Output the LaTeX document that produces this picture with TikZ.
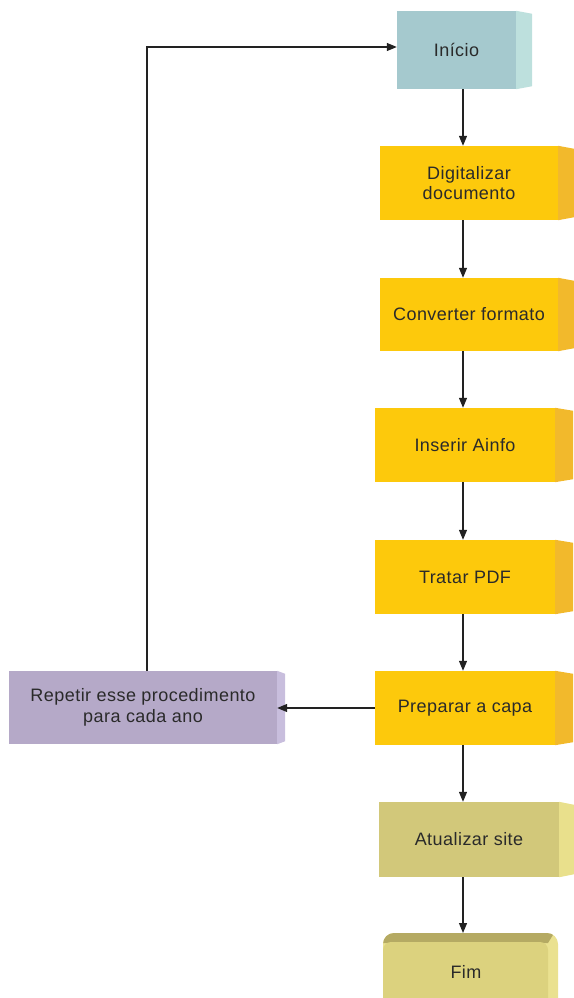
\documentclass[tikz,border=0pt]{standalone}
\usepackage{fontspec}
\setmainfont{Liberation Sans}[LetterSpace=2.5]
\usetikzlibrary{arrows.meta}
\definecolor{txt}{HTML}{2A2A2A}
\definecolor{tealF}{HTML}{A5C9CE}
\definecolor{tealS}{HTML}{BDE0DD}
\definecolor{yelF}{HTML}{FDC90C}
\definecolor{yelS}{HTML}{F2B92C}
\definecolor{purF}{HTML}{B5A9C8}
\definecolor{purS}{HTML}{C8BEDD}
\definecolor{oliF}{HTML}{D2C87A}
\definecolor{oliS}{HTML}{E9E08C}
\definecolor{fimF}{HTML}{DCD27E}
\definecolor{fimT}{HTML}{B5AA63}
\definecolor{fimS}{HTML}{EAE190}
\definecolor{lin}{HTML}{222222}
\tikzset{
  box/.style={rectangle, inner sep=0pt, text=txt, align=center,
    font=\fontsize{18}{20.5}\selectfont},
  arr/.style={draw=lin, line width=1.2pt, -{Triangle[length=10pt,width=8pt]}},
}
\newcommand{\sideface}[3]{%
  \fill[#3] (#1.north east) -- ++(#2,3) -- ([shift={(#2,-3)}]#1.south east) -- (#1.south east) -- cycle;}
\begin{document}
\begin{tikzpicture}[x=1pt,y=-1pt]
\useasboundingbox (0,0) rectangle (573,998);
% boxes
\node[box, fill=tealF, minimum width=119pt, minimum height=78pt] (inicio) at (456.5,50) {Início};
\sideface{inicio}{16}{tealS}
\node[box, fill=yelF, minimum width=178pt, minimum height=74pt] (dig) at (469,183) {Digitalizar\\documento};
\sideface{dig}{16}{yelS}
\node[box, fill=yelF, minimum width=178pt, minimum height=73pt] (conv) at (469,314.5) {Converter formato};
\sideface{conv}{16}{yelS}
\node[box, fill=yelF, minimum width=180pt, minimum height=74pt] (ins) at (465,445) {Inserir Ainfo};
\sideface{ins}{18}{yelS}
\node[box, fill=yelF, minimum width=180pt, minimum height=74pt] (trat) at (465,577) {Tratar PDF};
\sideface{trat}{18}{yelS}
\node[box, fill=yelF, minimum width=180pt, minimum height=74pt] (prep) at (465,708) {Preparar a capa};
\sideface{prep}{18}{yelS}
\node[box, fill=purF, minimum width=268pt, minimum height=73pt] (rep) at (143,707.5) {Repetir esse procedimento\\para cada ano};
\sideface{rep}{8}{purS}
\node[box, fill=oliF, minimum width=180pt, minimum height=75pt] (atu) at (469,839.5) {Atualizar site};
\sideface{atu}{15}{oliS}
% Fim
\begin{scope}
  \clip[rounded corners=11pt] (383,933) rectangle (558,1012);
  \fill[fimS] (380,930) rectangle (560,1012);
  \fill[fimT] (380,930) -- (556,930) -- (548,943) -- (380,943) -- cycle;
  \fill[fimF, rounded corners=8pt] (383,942) rectangle (548,1012);
\end{scope}
\node[box] (fim) at (466,972) {Fim};
\coordinate (fimtop) at (463,933);
% connectors
\coordinate (ax) at (463,0);
\draw[arr] (inicio.south -| ax) -- (dig.north -| ax);
\draw[arr] (dig.south -| ax) -- (conv.north -| ax);
\draw[arr] (conv.south -| ax) -- (ins.north -| ax);
\draw[arr] (ins.south -| ax) -- (trat.north -| ax);
\draw[arr] (trat.south -| ax) -- (prep.north -| ax);
\draw[arr] (prep.south -| ax) -- (atu.north -| ax);
\draw[arr] (atu.south -| ax) -- (fimtop);
\draw[arr] (prep.west) -- (prep.west -| rep.east);
\draw[arr] ([xshift=4pt]rep.north) |- ([yshift=3pt]inicio.west);
\end{tikzpicture}
\end{document}
